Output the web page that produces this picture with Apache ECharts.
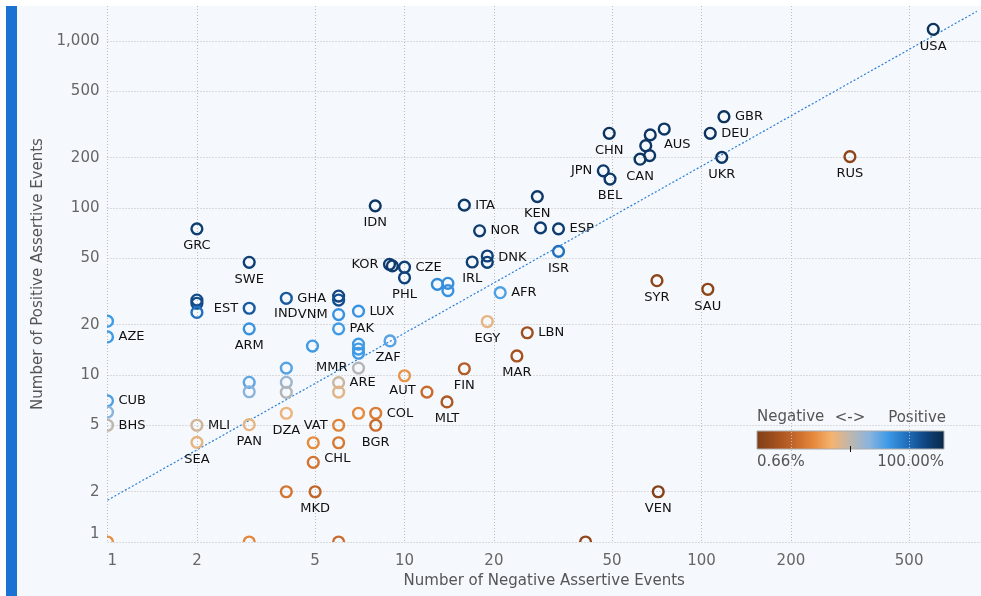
<!DOCTYPE html>
<html>
<head>
<meta charset="utf-8">
<script src="https://cdn.jsdelivr.net/npm/echarts@6/dist/echarts.min.js"></script>
<style>
  html, body { margin: 0; padding: 0; background: #fff; }
  #frame {
    position: absolute; left: 6px; top: 6px; width: 975px; height: 590px;
    background: #f5f8fc; border-left: 11px solid #1a72d2; box-sizing: border-box;
  }
  #chart { position: absolute; left: 0; top: 0; width: 981px; height: 596px; }
</style>
</head>
<body>
<div id="frame"></div>
<div id="chart"></div>
<script>
// country codes ('' = unlabeled point)
const codes = [
  "USA", "GBR", "DEU", "UKR", "RUS", "CHN", "", "", "CAN", "", "AUS", "JPN", "BEL",
  "KEN", "", "ESP", "ISR", "ITA", "IDN", "NOR", "DNK", "", "IRL", "KOR", "", "CZE", "PHL",
  "", "", "", "AFR", "EGY", "LBN", "MAR", "ZAF", "", "", "", "MMR", "ARE", "", "AUT", "",
  "FIN", "MLT", "", "COL", "BGR", "VAT", "", "", "CHL", "MKD", "", "DZA", "", "", "",
  "", "", "PAN", "MLI", "SEA", "CUB", "", "BHS", "", "AZE", "GRC", "SWE", "", "", "",
  "EST", "ARM", "GHA", "", "IND", "VNM", "PAK", "LUX", "", "SYR", "SAU", "VEN",
  "", "", "", ""
];
// number of negative assertive events (x)
const negEvents = [
  603, 119, 107, 117, 316, 48.9, 67.2, 64.9, 62.1, 66.9, 74.9, 46.7, 49.2,
  28.0, 28.7, 33.0, 33.0, 15.9, 7.97, 17.9, 19.0, 19.0, 16.9, 8.9, 9.1, 10, 10,
  12.9, 14.0, 14.0, 21.0, 19.0, 25.9, 23.9, 8.94, 7, 7, 7, 7, 6, 6, 10, 11.9,
  15.9, 13.9, 7, 8, 8, 6, 6, 4.93, 4.93, 5, 4, 4, 4, 4, 4,
  3, 3, 3, 2, 2, 1, 1, 1, 1, 1, 2, 3, 2, 2, 2,
  3, 3, 4, 6, 6, 6, 6, 7, 4.9, 70.8, 105, 71.5,
  1, 3, 6, 40.7
];
// number of positive assertive events (y)
const posEvents = [
  1175, 352, 280, 201, 203, 280, 274, 236, 196, 206, 297, 167, 149,
  117, 76, 75, 55, 104, 103, 73, 51.6, 47.3, 47.5, 46, 45, 44.2, 38.2,
  34.9, 35.4, 32.0, 31.1, 20.9, 17.9, 13.0, 16.0, 15.3, 14.3, 13.5, 11, 9, 7.9, 9.9, 7.9,
  10.9, 6.9, 5.9, 5.9, 5, 5, 3.93, 3.93, 3.0, 2, 2, 5.9, 11, 9.04, 7.88,
  9.04, 7.94, 5.04, 5, 3.95, 7, 6, 5, 21, 16.9, 75, 47.3, 28.1, 26.9, 23.7,
  25.1, 18.9, 28.8, 29.7, 28.1, 23, 18.9, 24.1, 14.9, 36.7, 32.6, 2,
  1, 1, 1, 1
];
// positive share (%)
const posShare = [
  96, 96, 96, 95, 5, 96, 95, 95, 95, 95, 95, 94, 94,
  94, 93, 93, 80, 94, 95, 93, 92, 92, 92, 93, 93, 92, 91,
  74, 73, 72, 68, 43, 10, 12, 67, 70, 70, 70, 52, 48, 44, 33, 22,
  16, 14, 31, 27, 22, 29, 26, 31, 25, 20, 25, 42, 67, 57, 52,
  66, 60, 43, 47, 43, 68, 60, 50, 70, 70, 92, 92, 89, 89, 80,
  85, 72, 85, 90, 88, 72, 70, 72, 70, 5, 5, 2,
  32, 30, 22, 6
];
const xTicks = [1, 2, 5, 10, 20, 50, 100, 200, 500];
const yTicks = [1, 2, 5, 10, 20, 50, 100, 200, 500, 1000];
const trendLine = [[1, 1.78], [845, 1504]];

const shareColors = [
  "#7f3f16", "#a14f1e", "#c4662a", "#e5883a", "#f5b370", "#bdb7ae",
  "#8ab4de", "#3d9ae6", "#1f6fbd", "#0f4580", "#0a2746"
];

// label placement: [dx, dy, align]
const B = [0, 17, "center"], R = [11, 0, "left"], L = [-11, 0, "right"];
const labelPlace = {
  USA: B, GBR: R, DEU: R, UKR: B, RUS: B, CHN: B, CAN: B, AUS: [13, 16, "center"],
  JPN: L, BEL: B, KEN: B, ESP: R, ISR: B, ITA: R, IDN: B, NOR: R, DNK: [11, 2, "left"],
  IRL: B, KOR: L, CZE: R, PHL: B, AFR: R, EGY: B, LBN: R, MAR: B, ZAF: [-2, 17, "center"],
  MMR: L, ARE: R, AUT: [-2, 15, "center"], FIN: B, MLT: B, COL: R, BGR: B, VAT: L,
  CHL: [11, -4, "left"], MKD: B, DZA: B, PAN: B, MLI: R, SEA: B, CUB: R, BHS: R, AZE: R,
  GRC: B, SWE: B, EST: L, ARM: B, GHA: R, IND: [-41, 14, "right"], VNM: L, PAK: R,
  LUX: R, SYR: B, SAU: B, VEN: B
};

const font = '"DejaVu Sans", sans-serif';
const fmt = v => v >= 1000 ? String(v).replace(/\B(?=(\d{3})+(?!\d))/g, ",") : String(v);

const chart = echarts.init(document.getElementById("chart"));
const gridLine = { show: true, lineStyle: { type: [1, 2], color: "#bdbdbd", width: 1 } };

chart.setOption({
  animation: false,
  grid: { left: 107.5, right: 0, top: 6, bottom: 54 },
  xAxis: {
    type: "log", logBase: 10, min: 1, max: 873,
    name: "Number of Negative Assertive Events",
    nameLocation: "middle", nameGap: 32,
    nameTextStyle: { fontFamily: font, fontSize: 15, color: "#555" },
    axisLine: { show: false },
    axisTick: { show: false, customValues: xTicks },
    axisLabel: {
      customValues: xTicks, formatter: fmt, alignMinLabel: "left", margin: 12,
      fontFamily: font, fontSize: 15, color: "#666"
    },
    splitLine: gridLine
  },
  yAxis: {
    type: "log", logBase: 10, min: 1, max: 1620,
    name: "Number of Positive Assertive Events",
    nameLocation: "middle", nameGap: 56,
    nameTextStyle: { fontFamily: font, fontSize: 15, color: "#555" },
    axisLine: { show: false },
    axisTick: { show: false, customValues: yTicks },
    axisLabel: {
      customValues: yTicks, formatter: fmt, verticalAlignMinLabel: "bottom", margin: 8,
      fontFamily: font, fontSize: 15, color: "#666"
    },
    splitLine: gridLine
  },
  visualMap: {
    show: false, type: "continuous", min: 0.66, max: 100, dimension: 2, seriesIndex: 1,
    inRange: { color: shareColors }
  },
  series: [
    {
      type: "line", data: trendLine, showSymbol: false, silent: true, clip: true, z: 1,
      lineStyle: { type: [2, 2], color: "#2b7fd8", width: 1.2 }
    },
    {
      type: "custom", clip: true, z: 2,
      data: codes.map((c, i) => [negEvents[i], posEvents[i], posShare[i]]),
      encode: { x: 0, y: 1 },
      renderItem(params, api) {
        const pt = api.coord([api.value(0), api.value(1)]);
        const code = codes[params.dataIndex];
        const children = [{
          type: "circle",
          shape: { cx: pt[0], cy: pt[1], r: 5.4 },
          style: { fill: "none", stroke: api.visual("color"), lineWidth: 2.4 }
        }];
        const p = labelPlace[code];
        if (code && p) {
          children.push({
            type: "text",
            style: {
              x: pt[0] + p[0], y: pt[1] + p[1], text: code, fill: "#111",
              font: '13px "DejaVu Sans", sans-serif', align: p[2], verticalAlign: "middle"
            }
          });
        }
        return { type: "group", children };
      }
    }
  ],
  graphic: [
    { type: "text", left: 757, top: 410, style: { text: "Negative", font: '15px "DejaVu Sans"', fill: "#555" } },
    { type: "text", x: 850, y: 418, style: { text: "<->", font: '15px "DejaVu Sans"', fill: "#555", align: "center", verticalAlign: "middle" } },
    { type: "text", x: 946, y: 418, style: { text: "Positive", font: '15px "DejaVu Sans"', fill: "#555", align: "right", verticalAlign: "middle" } },
    {
      type: "rect", shape: { x: 757, y: 431, width: 187, height: 18 },
      style: {
        stroke: "#aaa", lineWidth: 1,
        fill: new echarts.graphic.LinearGradient(0, 0, 1, 0,
          shareColors.map((c, i) => ({ offset: i / (shareColors.length - 1), color: c })))
      }
    },
    { type: "line", shape: { x1: 850.5, y1: 446, x2: 850.5, y2: 452 }, style: { stroke: "#111", lineWidth: 1 } },
    { type: "text", x: 757, y: 462, style: { text: "0.66%", font: '15px "DejaVu Sans"', fill: "#555", align: "left", verticalAlign: "middle" } },
    { type: "text", x: 944, y: 462, style: { text: "100.00%", font: '15px "DejaVu Sans"', fill: "#555", align: "right", verticalAlign: "middle" } }
  ]
});
</script>
</body>
</html>
